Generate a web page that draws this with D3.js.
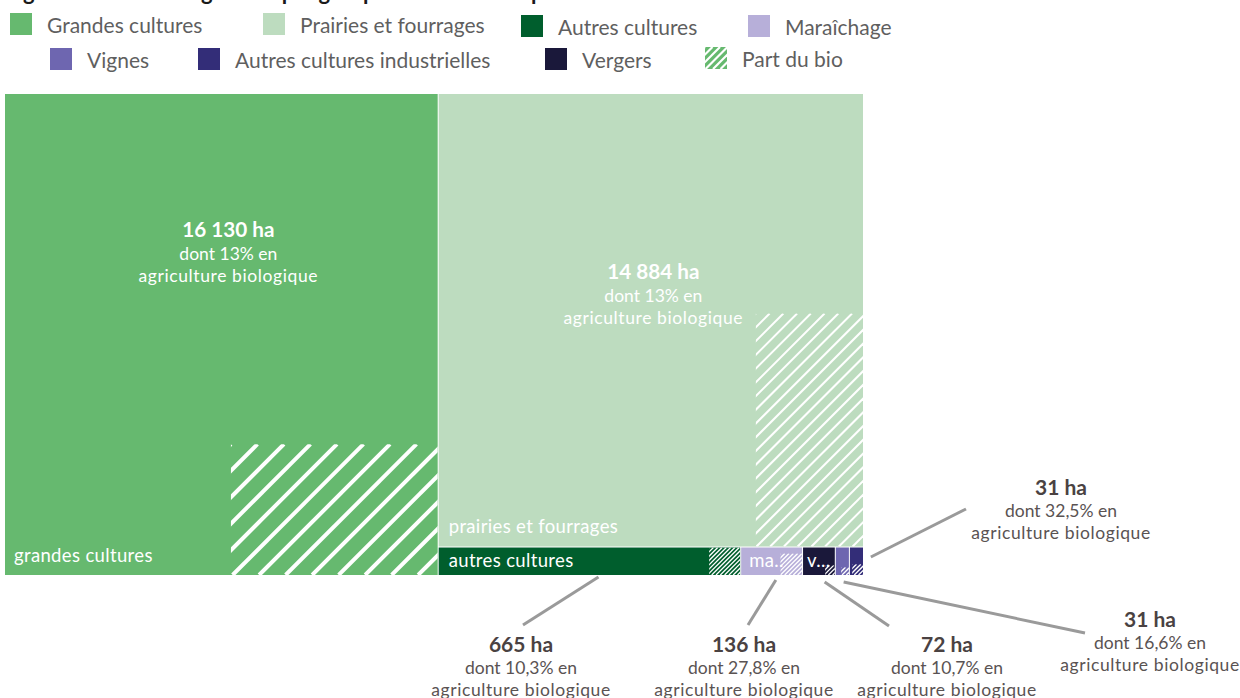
<!DOCTYPE html>
<html><head><meta charset="utf-8">
<script src="https://cdn.jsdelivr.net/npm/d3@7"></script>
<style>
html,body{margin:0;padding:0;background:#fff;}
svg{display:block;font-family:Lato,"Open Sans",sans-serif;}
</style></head>
<body>
<svg id="chart" width="1240" height="698"></svg>
<script>
// ---- data ----
const categories = ["Grandes cultures","Prairies et fourrages","Autres cultures","Maraîchage","Vignes","Autres cultures industrielles","Vergers"];
const surfaces   = [16130, 14884, 665, 136, 31, 31, 72];          // ha
const bioShare   = [13, 13, 10.3, 27.8, 16.6, 32.5, 10.7];        // % en agriculture biologique
const cellNames  = ["grandes cultures","prairies et fourrages","autres cultures","ma..","","","v..."];
const colors     = ["#66b96f","#bddcbf","#005e2d","#b7afd9","#6e66b0","#332d78","#1a183a"];
const legendLabels = ["Grandes cultures","Prairies et fourrages","Autres cultures","Maraîchage","Vignes","Autres cultures industrielles","Vergers","Part du bio"];
const titleText = "Figure 2 : Surfaces agricoles par groupe de cultures et part du bio";

// ---- helpers ----
const fr = d3.formatLocale({decimal:",", thousands:" ", grouping:[3], currency:["","€"]});
const fmtHa = v => fr.format(",")(v) + " ha";
const fmtPct = v => fr.format(",")(v) + "%";

const svg = d3.select("#chart");
const defs = svg.append("defs");

// title (clipped at top as in reference)
svg.append("text").attr("x",5).attr("y",0)
  .attr("font-size",22).attr("font-weight",700).attr("fill","#1a1a1a")
  .text(titleText);

// ---- legend ----
const legendLayout = [
  {x:10, y:13}, {x:263, y:13}, {x:521, y:15}, {x:748, y:15},
  {x:50, y:48}, {x:198, y:48}, {x:545, y:48}, {x:705, y:47}
];
const legend = svg.append("g");
legendLabels.forEach((lab,i)=>{
  const L = legendLayout[i];
  const g = legend.append("g").attr("transform",`translate(${L.x},${L.y})`);
  if (i < categories.length) {
    g.append("rect").attr("width",22).attr("height",22).attr("fill",colors[i]);
  } else {
    defs.append("clipPath").attr("id","legclip").append("rect").attr("width",22).attr("height",22);
    const hg = g.append("g").attr("clip-path","url(#legclip)");
    hg.append("rect").attr("width",22).attr("height",22).attr("fill",colors[0]);
    for (let k=-22;k<44;k+=7.5){
      hg.append("line").attr("x1",k).attr("y1",22).attr("x2",k+22).attr("y2",0)
        .attr("stroke","#fff").attr("stroke-width",2.2);
    }
  }
  g.append("text").attr("x",37).attr("y",20).attr("font-size",21).attr("fill","#5f5f5f").text(lab);
});

// ---- treemap ----
const data = categories.map((c,i)=>({name:c, value:surfaces[i], bio:bioShare[i], color:colors[i], cell:cellNames[i], idx:i}));
const root = d3.hierarchy({children:data}).sum(d=>d.value||0).sort((a,b)=>b.value-a.value);
d3.treemap().tile(d3.treemapSquarify).size([858,481]).paddingInner(1).round(false)(root);

const ox = 5, oy = 94;
const tg = svg.append("g").attr("transform",`translate(${ox},${oy})`);
const leaves = root.leaves();

// hatch aspect (w/h) for the two large tiles, square otherwise
const hatchAspect = {"Grandes cultures":1.58, "Prairies et fourrages":0.46};

leaves.forEach((n,k)=>{
  const d = n.data;
  const w = n.x1-n.x0, h = n.y1-n.y0;
  tg.append("rect").attr("x",n.x0).attr("y",n.y0).attr("width",w).attr("height",h).attr("fill",d.color);
  // bio hatch area at bottom-right
  const area = d.bio/100*w*h;
  const a = hatchAspect[d.name] || 1;
  let hw = Math.sqrt(area*a), hh = area/hw;
  if (hh > h) { hh = h; hw = area/h; }
  if (hw > w) { hw = w; hh = area/w; }
  const hx = n.x1-hw, hy = n.y1-hh;
  const cid = "hclip"+k;
  defs.append("clipPath").attr("id",cid).append("rect")
    .attr("x",hx+ox).attr("y",hy+oy).attr("width",hw).attr("height",hh);
  const hgp = svg.append("g").attr("clip-path",`url(#${cid})`);
  const s = Math.max(4.3, hw/7.8);
  const sw = Math.max(1.3, s*0.15);
  for (let x = hx - hh - s; x < n.x1 + s; x += s) {
    hgp.append("line").attr("x1",x+ox).attr("y1",n.y1+oy).attr("x2",x+hh+ox).attr("y2",hy+oy)
      .attr("stroke","#fff").attr("stroke-width",sw);
  }
});

// cell name labels
const nameLayout = {
  "Grandes cultures":{dx:9, dy:-13},
  "Prairies et fourrages":{dx:10, dy:-14},
  "Autres cultures":{dx:10, dy:-8},
  "Maraîchage":{dx:8, dy:-8},
  "Vergers":{dx:4, dy:-8}
};
leaves.forEach(n=>{
  const d = n.data, L = nameLayout[d.name];
  if (!L || !d.cell) return;
  tg.append("text").attr("x",n.x0+L.dx).attr("y",n.y1+L.dy)
    .attr("font-size",18.5).attr("letter-spacing",0.35).attr("fill","#fff").text(d.cell);
});

// inner value labels for large tiles
const innerLayout = {"Grandes cultures":{dx:7, dy:143}, "Prairies et fourrages":{dx:2.5, dy:185}};
leaves.forEach(n=>{
  const d = n.data, L = innerLayout[d.name];
  if (!L) return;
  const cx = (n.x0+n.x1)/2 + L.dx, y = n.y0 + L.dy;
  const t = tg.append("text").attr("text-anchor","middle").attr("fill","#fff");
  t.append("tspan").attr("x",cx).attr("y",y).attr("font-size",20.7).attr("font-weight",700).text(fmtHa(d.value));
  t.append("tspan").attr("x",cx).attr("y",y+23).attr("font-size",17.5).text("dont "+fmtPct(d.bio)+" en");
  t.append("tspan").attr("x",cx).attr("y",y+45).attr("font-size",17.5).attr("letter-spacing",0.6).text("agriculture biologique");
});

// external annotations for small tiles
const annotLayout = {
  "Autres cultures":{sx:0.53, sy:2, ex:523, ey:625, lx:521, ly:652},
  "Maraîchage":{sx:0.57, sy:5, ex:748, ey:625, lx:744, ly:652},
  "Vergers":{sx:0.68, sy:7, ex:889, ey:626, lx:947, ly:652},
  "Vignes":{sx:0.6, sy:7, ex:1085, ey:633, lx:1150, ly:627},
  "Autres cultures industrielles":{sx:1.6, sy:-18, ex:966, ey:509, lx:1061, ly:495}
};
leaves.forEach(n=>{
  const d = n.data, L = annotLayout[d.name];
  if (!L) return;
  const sx = ox + n.x0 + L.sx*(n.x1-n.x0), sy = oy + n.y1 + L.sy;
  svg.append("line").attr("x1",sx).attr("y1",sy).attr("x2",L.ex).attr("y2",L.ey)
    .attr("stroke","#9a9a9a").attr("stroke-width",3);
  const t = svg.append("text").attr("text-anchor","middle");
  t.append("tspan").attr("x",L.lx).attr("y",L.ly).attr("font-size",21).attr("font-weight",700).attr("fill","#4a4242").text(fmtHa(d.value));
  t.append("tspan").attr("x",L.lx).attr("y",L.ly+22).attr("font-size",17.5).attr("fill","#5a5353").text("dont "+fmtPct(d.bio)+" en");
  t.append("tspan").attr("x",L.lx).attr("y",L.ly+44).attr("font-size",17.5).attr("letter-spacing",0.6).attr("fill","#5a5353").text("agriculture biologique");
});
</script>
</body></html>
